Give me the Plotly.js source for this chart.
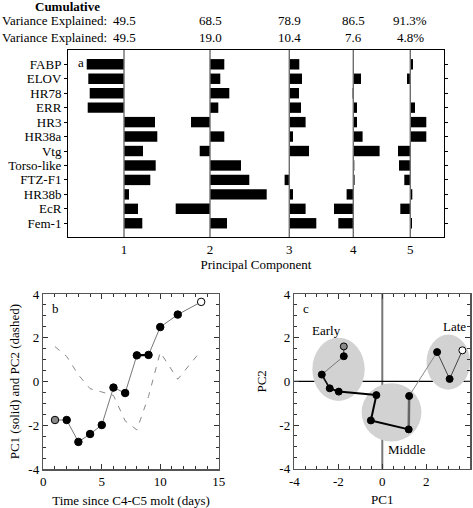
<!DOCTYPE html>
<html><head><meta charset="utf-8">
<script src="https://cdn.plot.ly/plotly-3.0.1.min.js"></script>
<style>body{margin:0;padding:0;background:#fff}#chart{width:473px;height:508px}</style>
</head><body><div id="chart"></div>
<script>
// ---------- DATA ----------
const genes = ['FABP','ELOV','HR78','ERR','HR3','HR38a','Vtg','Torso-like','FTZ-F1','HR38b','EcR','Fem-1'];
const loadPC1 = [-0.373,-0.357,-0.343,-0.363,0.310,0.333,0.190,0.317,0.263,0.050,0.140,0.183];
const loadPC2 = [0.143,0.103,0.193,0.083,-0.190,0.143,-0.103,0.310,0.393,0.567,-0.343,0.170];
const loadPC3 = [0.100,0.127,0.097,0.117,0.163,0.037,0.197,0.000,-0.047,0.037,0.163,0.270];
const loadPC4 = [0.000,0.077,-0.007,0.037,0.037,0.093,0.263,0.010,0.013,-0.067,-0.193,-0.150];
const loadPC5 = [0.027,-0.033,0.000,0.047,0.160,0.160,-0.123,-0.113,-0.060,0.020,-0.100,0.017];
const pcLabels = ['1','2','3','4','5'];
const cumVar = ['49.5','68.5','78.9','86.5','91.3%'];
const varExp = ['49.5','19.0','10.4','7.6','4.8%'];

const days = [1,2,3,4,5,6,7,8,9,10,11.5,13.5];
const pc1 = [-1.75,-1.75,-2.75,-2.39,-1.98,-0.27,-0.52,1.20,1.22,2.49,3.06,3.64];
const pc2 = [1.60,1.15,0.31,-0.32,-0.47,-0.63,-1.79,-2.20,-0.67,1.34,0.11,1.42];

const bTicks = [-4,-2,0,2,4];
const bTickText = ['-4','-2','0','2','4'];
const tTicks = [0,5,10,15];
const tTickText = ['0','5','10','15'];

// ---------- LAYOUT CONSTANTS ----------
const pcPos = [0.56,1.42,2.213,2.853,3.423];   // horizontal position of each component baseline
const groups = [
  {name:'Early', cx:-1.99, cy:0.55, rx:1.19, ry:1.45, lx:-2.55, ly:2.32},
  {name:'Middle', cx:0.42, cy:-1.42, rx:1.36, ry:1.33, lx:1.14, ly:-3.13},
  {name:'Late', cx:3.0, cy:0.88, rx:0.99, ry:1.26, lx:3.27, ly:2.52}
];
const F = "'Liberation Serif', 'Times New Roman', serif";
const fnt = {family:F, size:13, color:'#000'};

const loads = [loadPC1,loadPC2,loadPC3,loadPC4,loadPC5];
const traces = [];
const yIdx = genes.map((g,i)=>i);
loads.forEach((L,k)=>{
  traces.push({type:'bar', orientation:'h', x:L, y:yIdx, base:pcPos[k], width:0.72,
    marker:{color:'#000', line:{width:0}}, xaxis:'x', yaxis:'y', showlegend:false, hoverinfo:'skip'});
});

// panel b
traces.push({type:'scatter', mode:'lines', x:days, y:pc2, line:{color:'#888', width:1, dash:'6px,7px'},
  xaxis:'x2', yaxis:'y2', showlegend:false});
traces.push({type:'scatter', mode:'lines', x:days, y:pc1, line:{color:'#777', width:1},
  xaxis:'x2', yaxis:'y2', showlegend:false});
traces.push({type:'scatter', mode:'lines', x:days.slice(7,9), y:pc1.slice(7,9), line:{color:'#000', width:2.2},
  xaxis:'x2', yaxis:'y2', showlegend:false});
const mColors = days.map((d,i)=> i===0 ? '#8a8a8a' : (i===days.length-1 ? '#fff' : '#000'));
traces.push({type:'scatter', mode:'markers', x:days, y:pc1,
  marker:{size:7.5, color:mColors, line:{color:'#000', width:1}}, xaxis:'x2', yaxis:'y2', showlegend:false});

// panel c segments
const segStyle = [
  {c:'#333',w:1},{c:'#777',w:1},{c:'#111',w:1.8},{c:'#000',w:2},{c:'#000',w:2},
  {c:'#000',w:2},{c:'#000',w:2},{c:'#666',w:2.5},{c:'#888',w:1},{c:'#444',w:1},{c:'#444',w:1}
];
for (let i=0;i<pc1.length-1;i++){
  traces.push({type:'scatter', mode:'lines', x:[pc1[i],pc1[i+1]], y:[pc2[i],pc2[i+1]],
    line:{color:segStyle[i].c, width:segStyle[i].w}, xaxis:'x3', yaxis:'y3', showlegend:false});
}
traces.push({type:'scatter', mode:'markers', x:pc1, y:pc2,
  marker:{size:7, color:mColors, line:{color:'#000', width:1}}, xaxis:'x3', yaxis:'y3', showlegend:false});

const shapes = [];
pcPos.forEach(p=>shapes.push({type:'line', xref:'x', yref:'y domain', x0:p, x1:p, y0:0, y1:1,
  line:{color:'#6e6e6e', width:1.4}, layer:'above'}));
groups.forEach(g=>shapes.push({type:'circle', xref:'x3', yref:'y3', x0:g.cx-g.rx, x1:g.cx+g.rx,
  y0:g.cy-g.ry, y1:g.cy+g.ry, fillcolor:'#d2d2d2', line:{width:0}, layer:'below'}));
shapes.push({type:'line', xref:'x3', yref:'y3 domain', x0:0, x1:0, y0:0, y1:1, line:{color:'#777', width:2}, layer:'below'});
shapes.push({type:'line', xref:'x3 domain', yref:'y3', x0:0, x1:1, y0:0, y1:0, line:{color:'#000', width:1.2}, layer:'below'});

const ann = [];
ann.push({xref:'paper', yref:'paper', x:67/473, y:1-6.5/508, text:'<b>Cumulative</b>', showarrow:false, font:fnt, xanchor:'center', yanchor:'middle'});
ann.push({xref:'paper', yref:'paper', x:0, y:1-20.7/508, text:'Variance Explained:', showarrow:false, font:fnt, xanchor:'left', yanchor:'middle'});
ann.push({xref:'paper', yref:'paper', x:0, y:1-37.7/508, text:'Variance Explained:', showarrow:false, font:fnt, xanchor:'left', yanchor:'middle'});
pcPos.forEach((p,k)=>{
  ann.push({xref:'x', yref:'paper', x:p, y:1-20.7/508, text:cumVar[k], showarrow:false, font:fnt, xanchor:'center', yanchor:'middle'});
  ann.push({xref:'x', yref:'paper', x:p, y:1-37.7/508, text:varExp[k], showarrow:false, font:fnt, xanchor:'center', yanchor:'middle'});
});
ann.push({xref:'x domain', yref:'y domain', x:0.02, y:0.985, text:'a', showarrow:false, font:fnt, xanchor:'left', yanchor:'top'});
ann.push({xref:'x2 domain', yref:'y2 domain', x:0.04, y:0.97, text:'b', showarrow:false, font:fnt, xanchor:'left', yanchor:'top'});
ann.push({xref:'x3 domain', yref:'y3 domain', x:0.04, y:0.97, text:'c', showarrow:false, font:fnt, xanchor:'left', yanchor:'top'});
groups.forEach(g=>ann.push({xref:'x3', yref:'y3', x:g.lx, y:g.ly, text:g.name, showarrow:false, font:fnt, xanchor:'center', yanchor:'middle'}));

const frame = {showline:true, linecolor:'#555', linewidth:1.5, mirror:'ticks', ticks:'inside', ticklen:5,
  tickcolor:'#333', tickwidth:1, showgrid:false, zeroline:false, tickfont:fnt};

const layout = {
  width:473, height:508, margin:{l:0,r:0,t:0,b:0}, paper_bgcolor:'#fff', plot_bgcolor:'#fff',
  font:fnt, showlegend:false, barmode:'overlay',
  xaxis:{domain:[68/473,444/473], range:[0,3.76], tickvals:pcPos, ticktext:pcLabels, ticks:'',
    showline:true, linecolor:'#000', linewidth:1, mirror:true, showgrid:false, zeroline:false, tickfont:fnt,
    ticklabelstandoff:0, title:{text:'Principal Component', font:fnt, standoff:4}, anchor:'y'},
  yaxis:{domain:[1-237/508,1-50/508], range:[11.95,-0.99], tickvals:yIdx, ticktext:genes, ticks:'outside', ticklen:3,
    tickcolor:'#000', showline:true, linecolor:'#000', linewidth:1, mirror:'ticks', showgrid:false, zeroline:false,
    tickfont:fnt, anchor:'x'},
  xaxis2:Object.assign({}, frame, {domain:[43.3/473,218.7/473], range:[0,15], tickvals:tTicks, ticktext:tTickText,
    minor:{tickmode:'linear', tick0:0, dtick:1, ticklen:3, ticks:'inside', tickcolor:'#333'},
    title:{text:'Time since C4-C5 molt (days)', font:fnt, standoff:7}, anchor:'y2'}),
  yaxis2:Object.assign({}, frame, {domain:[1-469.3/508,1-294/508], range:[-4,4], tickvals:bTicks, ticktext:bTickText,
    minor:{tickmode:'linear', tick0:0, dtick:0.5, ticklen:3, ticks:'inside', tickcolor:'#333'},
    title:{text:'PC1 (solid) and PC2 (dashed)', font:fnt, standoff:6}, anchor:'x2'}),
  xaxis3:Object.assign({}, frame, {domain:[294.3/473,470.3/473], range:[-4,4], tickvals:bTicks, ticktext:bTickText,
    minor:{tickmode:'linear', tick0:0, dtick:0.5, ticklen:3, ticks:'inside', tickcolor:'#333'},
    title:{text:'PC1', font:fnt, standoff:7}, anchor:'y3'}),
  yaxis3:Object.assign({}, frame, {domain:[1-468.7/508,1-294/508], range:[-4,4], tickvals:bTicks, ticktext:bTickText,
    minor:{tickmode:'linear', tick0:0, dtick:0.5, ticklen:3, ticks:'inside', tickcolor:'#333'},
    title:{text:'PC2', font:fnt, standoff:10}, anchor:'x3'}),
  shapes:shapes, annotations:ann
};
Plotly.newPlot('chart', traces, layout, {staticPlot:true, displayModeBar:false});
</script></body></html>
